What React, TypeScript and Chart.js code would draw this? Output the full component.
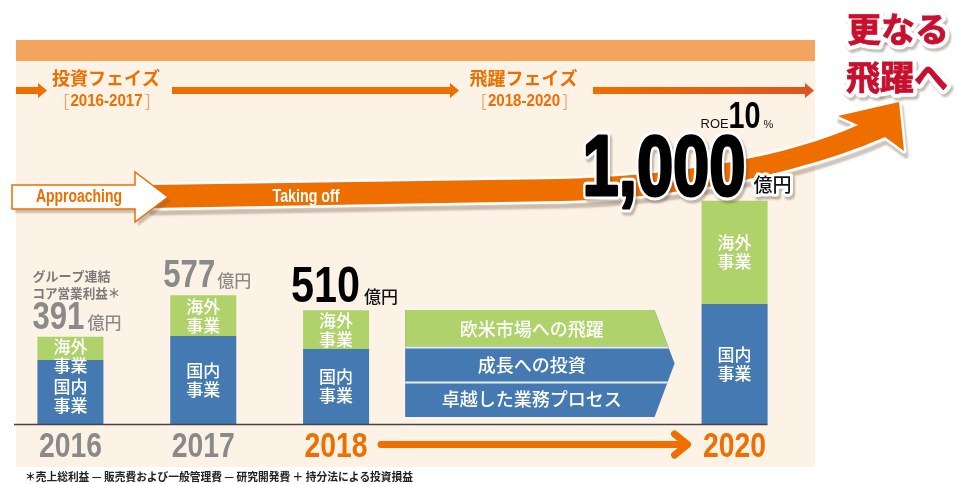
import React, { useEffect, useRef } from "react";
import { Chart, registerables } from "chart.js";

Chart.register(...registerables);

// ---- data ----
const years = ["2016", "2017", "2018", "", "", "2020"];
const domestic = [287, 394, 336, null, null, 538];
const overseas = [104, 183, 174, null, null, 462];
const totals = [391, 577, 510, null, null, 1000];
const overseasLabel = ["海外", "事業"];
const domesticLabel = ["国内", "事業"];
const strategies = ["欧米市場への飛躍", "成長への投資", "卓越した業務プロセス"];
const phaseNames = ["投資フェイズ", "飛躍フェイズ"];
const phaseRanges = ["2016-2017", "2018-2020"];
const roeTarget = 10;
const unit = "億円";
const captionLines = ["グループ連結", "コア営業利益＊"];
const footnote = "＊売上総利益 — 販売費および一般管理費 — 研究開発費 ＋ 持分法による投資損益";
const headline = ["更なる", "飛躍へ"];
const swooshLabels = ["Approaching", "Taking off"];

// ---- style ----
const JP = '"Noto Sans CJK JP", "Noto Sans", sans-serif';
const NUM = '"Liberation Sans", Arial, sans-serif';
const ORANGE = "#EE6E00";
const BLUE = "#4479B2";
const GREEN = "#AFD26B";
const GRAY = "#8A8A8A";
const PANEL = "#FDF2E6";

function T(ctx: CanvasRenderingContext2D, s: string, x: number, y: number, font: string, color: string, align: CanvasTextAlign = "left", base: CanvasTextBaseline = "alphabetic", maxW?: number) {
  ctx.font = font;
  ctx.fillStyle = color;
  ctx.textAlign = align;
  ctx.textBaseline = base;
  if (maxW) ctx.fillText(s, x, y, maxW);
  else ctx.fillText(s, x, y);
}

function haloText(ctx: CanvasRenderingContext2D, s: string, x: number, y: number, font: string, color: string, halo: number, maxW?: number, embolden = 0, align: CanvasTextAlign = "left", base: CanvasTextBaseline = "alphabetic") {
  ctx.save();
  ctx.font = font;
  ctx.textAlign = align;
  ctx.textBaseline = base;
  ctx.lineJoin = "round";
  // shadow
  ctx.shadowColor = "rgba(90,70,50,0.35)";
  ctx.shadowOffsetX = 2;
  ctx.shadowOffsetY = 3;
  ctx.shadowBlur = 2;
  ctx.strokeStyle = "#ffffff";
  ctx.lineWidth = halo;
  if (maxW) ctx.strokeText(s, x, y, maxW); else ctx.strokeText(s, x, y);
  ctx.shadowColor = "transparent";
  if (embolden > 0) {
    ctx.strokeStyle = color;
    ctx.lineWidth = embolden;
    if (maxW) ctx.strokeText(s, x, y, maxW); else ctx.strokeText(s, x, y);
  }
  ctx.fillStyle = color;
  if (maxW) ctx.fillText(s, x, y, maxW); else ctx.fillText(s, x, y);
  ctx.restore();
}

function barBox(chart: any, i: number) {
  const d = chart.getDatasetMeta(0).data[i];
  const o = chart.getDatasetMeta(1).data[i];
  return { x: d.x, left: d.x - d.width / 2, right: d.x + d.width / 2, top: o.y, mid: d.y, base: d.base };
}

function phaseArrow(ctx: CanvasRenderingContext2D, x1: number, x2: number, y: number, fill: any) {
  ctx.fillStyle = fill;
  ctx.fillRect(x1, y - 3.5, x2 - x1 - 8, 7);
  ctx.beginPath();
  ctx.moveTo(x2 - 9, y - 7.5);
  ctx.lineTo(x2, y);
  ctx.lineTo(x2 - 9, y + 7.5);
  ctx.closePath();
  ctx.fill();
}

function bracketRange(ctx: CanvasRenderingContext2D, s: string, cx: number, y: number) {
  T(ctx, s, cx, y, `bold 16px ${NUM}`, ORANGE, "center", "middle", 72);
  ctx.save();
  ctx.strokeStyle = "#F2A266";
  ctx.lineWidth = 1.2;
  const l = cx - 41, r = cx + 42;
  ctx.beginPath();
  ctx.moveTo(l + 3, y - 7.5); ctx.lineTo(l, y - 7.5); ctx.lineTo(l, y + 7.5); ctx.lineTo(l + 3, y + 7.5);
  ctx.moveTo(r - 3, y - 7.5); ctx.lineTo(r, y - 7.5); ctx.lineTo(r, y + 7.5); ctx.lineTo(r - 3, y + 7.5);
  ctx.stroke();
  ctx.restore();
}

const deco = {
  id: "deco",
  beforeDatasetsDraw(chart: any) {
    const ctx: CanvasRenderingContext2D = chart.ctx;
    const area = chart.chartArea;
    ctx.save();
    // panel
    ctx.fillStyle = PANEL;
    ctx.fillRect(16, 40, 799, 427);
    ctx.fillStyle = "#F3A45D";
    ctx.fillRect(16, 40, 799, 21);

    // phase arrows
    phaseArrow(ctx, 16, 47, 90.5, ORANGE);
    phaseArrow(ctx, 172, 459, 90.5, ORANGE);
    const g = ctx.createLinearGradient(593, 0, 814, 0);
    g.addColorStop(0, ORANGE);
    g.addColorStop(1, "#DF531F");
    phaseArrow(ctx, 593, 814, 90.5, g);
    T(ctx, phaseNames[0], 106, 78, `bold 18px ${JP}`, ORANGE, "center", "middle");
    T(ctx, phaseNames[1], 523.5, 78, `bold 18px ${JP}`, ORANGE, "center", "middle");
    bracketRange(ctx, phaseRanges[0], 106.5, 102);
    bracketRange(ctx, phaseRanges[1], 524, 102);

    // swoosh band
    ctx.save();
    ctx.beginPath();
    ctx.moveTo(150, 185);
    ctx.lineTo(560, 179);
    ctx.bezierCurveTo(680, 176, 790, 156, 858, 125);
    ctx.lineTo(838, 116);
    ctx.lineTo(899, 102);
    ctx.lineTo(904, 151);
    ctx.lineTo(885, 137);
    ctx.bezierCurveTo(810, 170, 690, 198, 560, 201);
    ctx.lineTo(150, 208);
    ctx.closePath();
    ctx.shadowColor = "rgba(110,90,70,0.35)";
    ctx.shadowOffsetX = 2;
    ctx.shadowOffsetY = 5;
    ctx.shadowBlur = 2;
    ctx.lineJoin = "round";
    ctx.strokeStyle = "#ffffff";
    ctx.lineWidth = 5;
    ctx.stroke();
    ctx.shadowColor = "transparent";
    ctx.fillStyle = ORANGE;
    ctx.fill();
    ctx.restore();

    // approaching arrow
    ctx.save();
    ctx.beginPath();
    ctx.moveTo(12, 185);
    ctx.lineTo(135, 185);
    ctx.lineTo(135, 172);
    ctx.lineTo(168, 197);
    ctx.lineTo(135, 222);
    ctx.lineTo(135, 209);
    ctx.lineTo(12, 209);
    ctx.closePath();
    ctx.shadowColor = "rgba(110,90,70,0.35)";
    ctx.shadowOffsetX = 3;
    ctx.shadowOffsetY = 4;
    ctx.shadowBlur = 2;
    ctx.fillStyle = "#ffffff";
    ctx.fill();
    ctx.shadowColor = "transparent";
    ctx.strokeStyle = ORANGE;
    ctx.lineWidth = 1.5;
    ctx.stroke();
    ctx.restore();
    T(ctx, swooshLabels[0], 36, 197, `bold 18px ${NUM}`, ORANGE, "left", "middle", 86);
    T(ctx, swooshLabels[1], 306, 197, `bold 18px ${NUM}`, "#ffffff", "center", "middle", 67);

    // headline
    haloText(ctx, headline[0], 898, 29, `bold 34px ${JP}`, "#C8102E", 9, undefined, 0.8, "center", "middle");
    haloText(ctx, headline[1], 897, 77, `bold 34px ${JP}`, "#C8102E", 9, undefined, 0.8, "center", "middle");

    // strategy chevron between 2018 and 2020
    const b2 = barBox(chart, 2);
    const b5 = barBox(chart, 5);
    const L = b2.right + 36;
    const tip = b5.left - 27;
    const R = tip - 20;
    const yT = 310, yB = 417, yM = (yT + yB) / 2;
    ctx.save();
    ctx.beginPath();
    ctx.moveTo(L, yT); ctx.lineTo(R, yT); ctx.lineTo(tip, yM); ctx.lineTo(R, yB); ctx.lineTo(L, yB); ctx.closePath();
    ctx.clip();
    ctx.fillStyle = BLUE;
    ctx.fillRect(L, yT, tip - L + 2, yB - yT);
    ctx.fillStyle = GREEN;
    ctx.fillRect(L, yT, tip - L + 2, 36.5);
    ctx.fillStyle = "#E6EDF3";
    ctx.fillRect(L, 346.5, tip - L + 2, 2);
    ctx.fillRect(L, 381.5, tip - L + 2, 2);
    ctx.restore();
    const cx = (L + R) / 2 + 2;
    const rowY = [329, 365, 399];
    strategies.forEach((s, i) => T(ctx, s, cx, rowY[i], `500 18px ${JP}`, "#ffffff", "center", "middle"));

    // 2018 -> 2020 arrow
    ctx.save();
    ctx.strokeStyle = ORANGE;
    ctx.lineWidth = 7;
    ctx.lineCap = "round";
    ctx.lineJoin = "round";
    const a1 = b2.right + 12, a2 = b5.left - 14;
    ctx.beginPath();
    ctx.moveTo(a1, 444.5); ctx.lineTo(a2 - 2, 444.5);
    ctx.moveTo(a2 - 13, 434); ctx.lineTo(a2, 444.5); ctx.lineTo(a2 - 13, 455);
    ctx.stroke();
    ctx.restore();

    // years
    years.forEach((y, i) => {
      if (!y) return;
      const b = barBox(chart, i);
      T(ctx, y, b.x, 457, `bold 35px ${NUM}`, i >= 2 ? ORANGE : GRAY, "center", "alphabetic", 63);
    });

    // footnote
    T(ctx, footnote, 25, 477, `bold 11px ${JP}`, "#222222", "left", "middle", 388);
    ctx.restore();
  },
  afterDatasetsDraw(chart: any) {
    const ctx: CanvasRenderingContext2D = chart.ctx;
    ctx.save();
    const labelFont = `500 17px ${JP}`;
    years.forEach((_, i) => {
      if (domestic[i] == null) return;
      const b = barBox(chart, i);
      let cy = Math.max((b.top + b.mid) / 2, b.top + 19);
      T(ctx, overseasLabel[0], b.x, cy - 9.5, labelFont, "#ffffff", "center", "middle");
      T(ctx, overseasLabel[1], b.x, cy + 9.5, labelFont, "#ffffff", "center", "middle");
      const cy2 = Math.max((b.mid + b.base) / 2, cy + 9.5 + 30.5);
      T(ctx, domesticLabel[0], b.x, cy2 - 9.5, labelFont, "#ffffff", "center", "middle");
      T(ctx, domesticLabel[1], b.x, cy2 + 9.5, labelFont, "#ffffff", "center", "middle");
    });

    // baseline
    const area = chart.chartArea;
    const b5 = barBox(chart, 5);
    ctx.strokeStyle = "#444444";
    ctx.lineWidth = 1.5;
    ctx.beginPath();
    ctx.moveTo(14, area.bottom + 0.5);
    ctx.lineTo(b5.right, area.bottom + 0.5);
    ctx.stroke();

    // value labels
    const fmt = (v: number) => v.toLocaleString("en-US");
    // 2016
    let b = barBox(chart, 0);
    T(ctx, captionLines[0], b.left - 5, b.top - 61, `bold 13px ${JP}`, "#7B7B7B", "left", "middle");
    T(ctx, captionLines[1], b.left - 5, b.top - 44, `bold 13px ${JP}`, "#7B7B7B", "left", "middle", 88);
    T(ctx, fmt(totals[0] as number), b.left - 5, b.top - 8, `bold 39px ${NUM}`, GRAY, "left", "alphabetic", 52);
    T(ctx, unit, b.left + 50, b.top - 8, `500 17px ${JP}`, GRAY, "left", "alphabetic");
    // 2017
    b = barBox(chart, 1);
    T(ctx, fmt(totals[1] as number), b.left - 7, b.top - 8, `bold 39px ${NUM}`, GRAY, "left", "alphabetic", 52);
    T(ctx, unit, b.left + 47, b.top - 8, `500 17px ${JP}`, GRAY, "left", "alphabetic");
    // 2018
    b = barBox(chart, 2);
    T(ctx, fmt(totals[2] as number), b.left - 12, b.top - 8, `bold 50px ${NUM}`, "#000000", "left", "alphabetic", 69);
    T(ctx, unit, b.left + 61, b.top - 7, `500 17px ${JP}`, "#111111", "left", "alphabetic");
    // 2020
    b = barBox(chart, 5);
    haloText(ctx, fmt(totals[5] as number), b.left - 119, b.top - 6, `bold 86px ${NUM}`, "#000000", 9, 163, 3);
    haloText(ctx, unit, b.left + 52, b.top - 9, `500 19px ${JP}`, "#111111", 6);
    T(ctx, "ROE", b.left - 1, b.top - 73, `500 13px ${NUM}`, "#111111", "left", "alphabetic", 28);
    T(ctx, String(roeTarget), b.left + 27, b.top - 73, `bold 36px ${NUM}`, "#000000", "left", "alphabetic", 32);
    T(ctx, "%", b.left + 62, b.top - 73, `500 11px ${NUM}`, "#111111", "left", "alphabetic");
    ctx.restore();
  },
};

export default function App() {
  const ref = useRef<HTMLCanvasElement | null>(null);
  useEffect(() => {
    if (!ref.current) return;
    const chart = new Chart(ref.current, {
      type: "bar",
      data: {
        labels: years,
        datasets: [
          { label: "国内事業", data: domestic as any, backgroundColor: BLUE, borderWidth: 0 },
          { label: "海外事業", data: overseas as any, backgroundColor: GREEN, borderWidth: 0 },
        ],
      },
      options: {
        animation: false,
        responsive: false,
        devicePixelRatio: 1,
        layout: { padding: { left: 4, right: 156, top: 0, bottom: 60 } },
        datasets: { bar: { categoryPercentage: 1, barPercentage: 0.497 } } as any,
        scales: {
          x: { stacked: true, display: false },
          y: { stacked: true, display: false, min: 0, max: 1900 },
        },
        plugins: { legend: { display: false }, tooltip: { enabled: false } },
      },
      plugins: [deco],
    });
    return () => chart.destroy();
  }, []);
  return (
    <div style={{ position: "absolute", left: 0, top: 0, width: 957, height: 484, background: "#ffffff" }}>
      <canvas ref={ref} width={957} height={484} style={{ display: "block" }} />
    </div>
  );
}
